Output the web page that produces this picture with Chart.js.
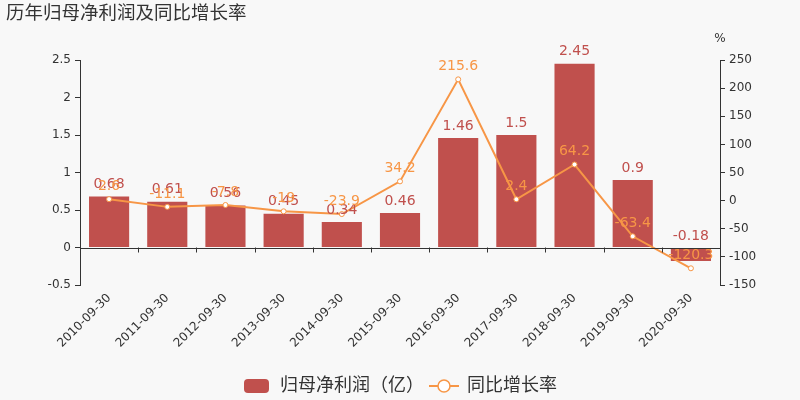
<!DOCTYPE html>
<html><head><meta charset="utf-8">
<script src="https://cdn.jsdelivr.net/npm/chart.js@4/dist/chart.umd.min.js"></script>
<style>html,body{margin:0;padding:0;background:#f8f8f8;}#wrap{width:800px;height:400px;}</style>
</head><body><div id="wrap"><canvas id="c" width="800" height="400"></canvas></div>
<script>
const categories = ['2010-09-30','2011-09-30','2012-09-30','2013-09-30','2014-09-30','2015-09-30','2016-09-30','2017-09-30','2018-09-30','2019-09-30','2020-09-30'];
const netProfit = [0.68, 0.61, 0.56, 0.45, 0.34, 0.46, 1.46, 1.5, 2.45, 0.9, -0.18];
const growthRate = [2.6, -11.1, -7.8, -19, -23.9, 34.2, 215.6, 2.4, 64.2, -63.4, -120.3];
const seriesNames = ['归母净利润（亿）', '同比增长率'];
const titleText = '历年归母净利润及同比增长率';

const RED = '#c0504d', ORANGE = '#f79646', TXT = '#333333';
const FONT = "'DejaVu Sans','Noto Sans CJK SC',sans-serif";

function makeIcon(kind){
  const cv = document.createElement('canvas');
  cv.width = 30; cv.height = 16;
  const g = cv.getContext('2d');
  if(kind==='bar'){
    g.fillStyle = RED;
    g.beginPath(); g.roundRect(2,1,25,14,4); g.fill();
  } else {
    g.strokeStyle = ORANGE; g.lineWidth = 2;
    g.beginPath(); g.moveTo(0,8); g.lineTo(30,8); g.stroke();
    g.fillStyle = '#fff'; g.lineWidth = 1.5;
    g.beginPath(); g.arc(15,8,6,0,Math.PI*2); g.fill(); g.stroke();
  }
  return cv;
}
const icons = [makeIcon('bar'), makeIcon('line')];

const decor = {
  id:'decor',
  beforeDraw(chart){
    const ctx = chart.ctx;
    ctx.save(); ctx.fillStyle = '#f8f8f8'; ctx.fillRect(0,0,chart.width,chart.height); ctx.restore();
  },
  afterDatasetsDraw(chart){
    const ctx = chart.ctx, x = chart.scales.x, y = chart.scales.y;
    const zy = y.getPixelForValue(0);
    ctx.save();
    ctx.strokeStyle = TXT; ctx.lineWidth = 1;
    ctx.beginPath(); ctx.moveTo(chart.chartArea.left, Math.round(zy)+0.5); ctx.lineTo(chart.chartArea.right, Math.round(zy)+0.5); ctx.stroke();
    const step = (x.getPixelForValue(1) - x.getPixelForValue(0));
    for(let i=0;i<=categories.length;i++){
      const px = Math.round(x.getPixelForValue(0) - step/2 + i*step)+0.5;
      ctx.beginPath(); ctx.moveTo(px, zy); ctx.lineTo(px, zy+5); ctx.stroke();
    }
    // labels
    ctx.font = "14px " + FONT;
    ctx.textAlign = 'center'; ctx.textBaseline = 'bottom';
    const mb = chart.getDatasetMeta(0);
    ctx.fillStyle = RED;
    mb.data.forEach((el,i)=>{
      const v = netProfit[i];
      const top = v >= 0 ? el.y : el.base;
      ctx.fillText(String(v), el.x, top - 5);
    });
    const ml = chart.getDatasetMeta(1);
    ctx.fillStyle = ORANGE;
    ml.data.forEach((el,i)=>{
      ctx.fillText(String(growthRate[i]), el.x, el.y - 6);
    });
    // title and % unit
    ctx.fillStyle = TXT; ctx.textAlign = 'left'; ctx.textBaseline = 'middle';
    ctx.font = "18.5px " + FONT;
    ctx.fillText(titleText, 6, 14);
    ctx.font = "12px " + FONT; ctx.textAlign = 'center';
    ctx.fillText('%', chart.chartArea.right, 39);
    ctx.restore();
  }
};

new Chart(document.getElementById('c'), {
  data: {
    labels: categories,
    datasets: [
      { type:'bar', label: seriesNames[0], data: netProfit, backgroundColor: RED, yAxisID:'y',
        order: 1, barPercentage: 0.69, categoryPercentage: 1.0 },
      { type:'line', label: seriesNames[1], data: growthRate, borderColor: ORANGE, borderWidth: 2,
        pointBackgroundColor: '#fff', pointBorderColor: ORANGE, pointBorderWidth: 1, pointRadius: 2.5,
        yAxisID:'y1', order: 0, tension: 0, pointStyle: 'circle' }
    ]
  },
  options: {
    responsive: false, animation: false, devicePixelRatio: 1,
    layout: { padding: { top: 60, left: 0, right: 0, bottom: -5 } },
    plugins: {
      title: { display:false }, tooltip: { enabled:false },
      legend: {
        position:'bottom',
        labels: {
          usePointStyle: true, pointStyleWidth: 28, padding: 6,
          font: { size: 18, family: FONT }, color: TXT,
          generateLabels(chart){
            return seriesNames.map((n,i)=>({ text:n, pointStyle: icons[i], datasetIndex:i, hidden:false,
              fillStyle:'transparent', strokeStyle:'transparent', lineWidth:0, fontColor: TXT }));
          }
        }
      }
    },
    scales: {
      x: {
        grid: { display:false, drawTicks:false }, border: { display:false },
        ticks: { color: TXT, font:{ size:12, family: FONT }, maxRotation:45, minRotation:45, autoSkip:false, padding: 6 },
        afterFit(s){ s.height = 86; }
      },
      y: {
        position:'left', min:-0.5, max:2.5,
        ticks: { stepSize:0.5, color: TXT, font:{ size:12, family: FONT }, padding: 4,
          callback: v => String(Math.round(v*10)/10) },
        grid: { drawOnChartArea:false, drawTicks:true, tickLength:5, color: TXT },
        border: { display:true, color: TXT },
        afterFit(s){ s.width = 80; }
      },
      y1: {
        position:'right', min:-150, max:250,
        ticks: { stepSize:50, color: TXT, font:{ size:12, family: FONT }, padding: 4 },
        grid: { drawOnChartArea:false, drawTicks:true, tickLength:5, color: TXT },
        border: { display:true, color: TXT },
        afterFit(s){ s.width = 80; }
      }
    }
  },
  plugins: [decor]
});
</script>
</body></html>
